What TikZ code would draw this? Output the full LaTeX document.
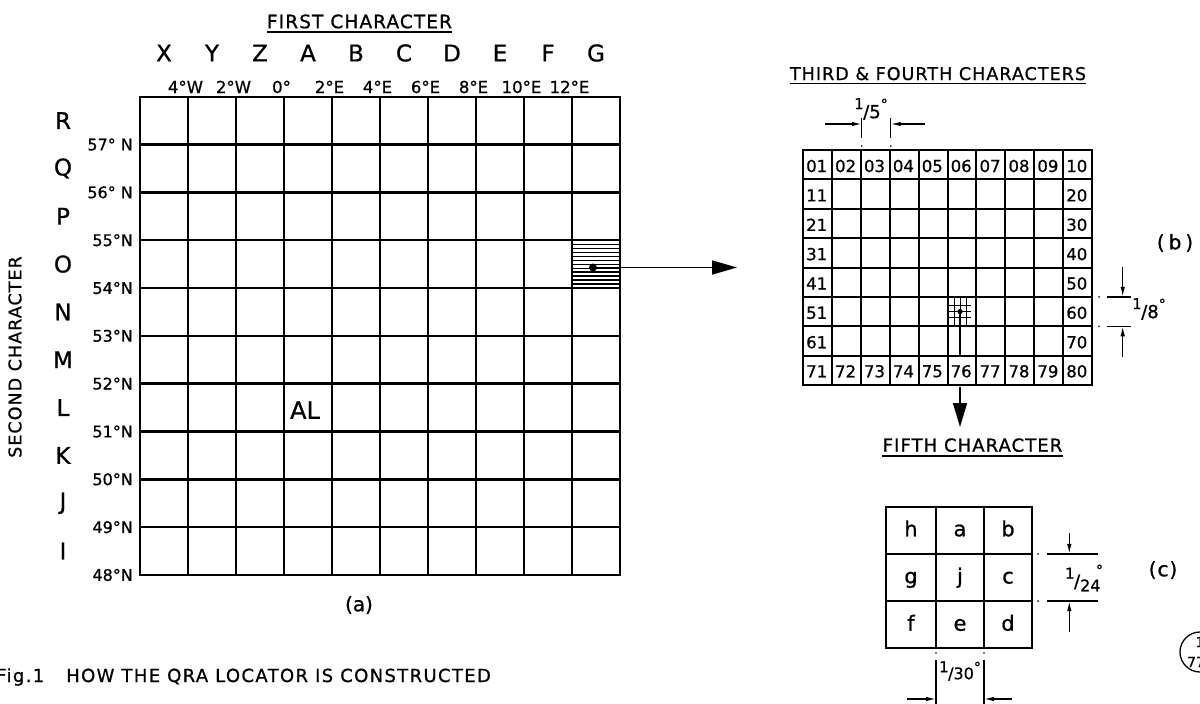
\documentclass[tikz,border=0pt]{standalone}
\usepackage{fontspec}
\setmainfont[FakeBold=0.9]{DejaVu Sans}
\newfontfamily\lblfont[LetterSpace=6,FakeBold=0.9]{DejaVu Sans}
\newfontfamily\capfont[LetterSpace=7.5,FakeBold=0.9]{DejaVu Sans}
\usetikzlibrary{arrows.meta}
\newcommand{\myfs}[1]{\fontsize{#1}{#1}\selectfont}
\newcommand{\dimfrac}[2][18]{\raisebox{0.5em}{\myfs{15}1}\kern-0.5pt{\myfs{#1}/#2}\raisebox{0.5em}{\myfs{14}°}}
\newcommand{\dimfraclow}[1]{\raisebox{0.5em}{\myfs{15}1}\kern-0.5pt/\raisebox{-0.2em}{\myfs{16}#1}\kern-4.5pt\raisebox{0.7em}{\myfs{14}°}}
\tikzset{
  gridA/.style={line width=2.4pt,line cap=rect},
  gridB/.style={line width=2pt,line cap=rect},
  gridC/.style={line width=2.3pt,line cap=rect},
  hatch/.style={line width=1.2pt},
  fine/.style={line width=1pt},
  dimline/.style={line width=1.3pt},
  dimarrow/.style={line width=1.3pt,-{Latex[length=10pt,width=4.5pt]}},
  bigarrow/.style={line width=1.7pt,-{Triangle[length=25pt,width=14pt]}},
  downarrow/.style={line width=1.7pt,-{Triangle[length=24pt,width=14pt]}},
  title/.style={font=\lblfont\myfs{17.5},inner sep=0pt,anchor=base},
  ulstyle/.style={line width=1.8pt},
  biglet/.style={font=\myfs{23}},
  deg/.style={font=\myfs{16.5},anchor=base},
  lat/.style={font=\myfs{16},anchor=east,inner sep=0pt},
  bnum/.style={font=\myfs{16.5},anchor=west,inner sep=0pt},
  cletter/.style={font=\myfs{21},anchor=base},
  dimtxt/.style={font=\myfs{18},inner sep=0pt},
  panel/.style={font=\myfs{20}},
}
\begin{document}
\begin{tikzpicture}[x=1pt,y=-1pt]
\useasboundingbox (0,0) rectangle (1200,704);
% ---------------- (a) main grid
\foreach \i in {0,...,10}{
  \draw[gridA] ({140+48*\i},96.7) -- ({140+48*\i},575);
  \draw[gridA] (140,{96.7+47.83*\i}) -- (620,{96.7+47.83*\i});
}
\foreach \k in {1,...,11}{
  \draw[hatch] (572,{240.2+47.83/12*\k}) -- (620,{240.2+47.83/12*\k});
}
\coordinate (dotA) at (593,267.5);
\coordinate (tipA) at (737,267.5);
\fill (dotA) circle[radius=4];
\draw[bigarrow] (dotA) -- (tipA);

\node[title,font=\lblfont\myfs{18.5}] (first) at (359.5,28.2) {FIRST CHARACTER};
\draw[ulstyle] ([yshift=-4pt]first.base west) -- ([yshift=-4pt]first.base east);
\foreach \lt [count=\i from 0] in {X,Y,Z,A,B,C,D,E,F,G}
  \node[biglet] (col\lt) at ({164+48*\i},53) {\lt};
\foreach \lab [count=\i from 1] in {4°W,2°W,0°,2°E,4°E,6°E,8°E,10°E,12°E}
  \node[deg] (lon\i) at ({140+48*\i-2.5},93) {\lab};
\foreach \lt [count=\i from 0] in {R,Q,P,O,N,M,L,K,J,I}
  \node[biglet] (row\lt) at (63,{120.6+47.83*\i}) {\lt};
\foreach \lab [count=\i from 1] in {57° N,56° N,55°N,54°N,53°N,52°N,51°N,50°N,49°N,48°N}
  \node[lat] (lat\i) at (133,{96.7+47.83*\i}) {\lab};
\node[title,anchor=center,rotate=90] (second) at (15,357) {SECOND CHARACTER};
\node[font=\myfs{24}] (al) at (305,410) {AL};
\node[panel] (pa) at (359,605) {(a)};
\node[font=\capfont\myfs{18},anchor=base west,inner sep=0pt] (caption) at (-4,682)
  {Fig.1\hspace{22pt}HOW THE QRA LOCATOR IS CONSTRUCTED};

% ---------------- (b) grid
\foreach \i in {0,...,10}
  \draw[gridB] ({803+28.9*\i},150) -- ({803+28.9*\i},385);
\foreach \j in {0,...,8}
  \draw[gridB] (803,{150+29.375*\j}) -- (1092,{150+29.375*\j});
\foreach \lab [count=\i from 0] in {01,02,03,04,05,06,07,08,09,10}
  \node[bnum] (top\i) at ({806+28.9*\i},166) {\lab};
\foreach \lab [count=\i from 0] in {71,72,73,74,75,76,77,78,79,80}
  \node[bnum] (bot\i) at ({806+28.9*\i},371.3) {\lab};
\foreach \lab [count=\j from 1] in {11,21,31,41,51,61}
  \node[bnum] (left\j) at (806,{166+29.375*\j}) {\lab};
\foreach \lab [count=\j from 1] in {20,30,40,50,60,70}
  \node[bnum] (right\j) at ({806+28.9*9},{166+29.375*\j}) {\lab};
% sub-grid in square 56
\foreach \x in {954,960,966}
  \draw[fine] (\x,296.9) -- (\x,326.25);
\foreach \y in {305.5,311.5,317.5}
  \draw[fine] (947.5,\y) -- (971,\y);
\coordinate (dotB) at (960,311.6);
\coordinate (legEnd) at (960,355.6);
\fill (dotB) circle[radius=2.6];
\draw[line width=1.3pt] (dotB) -- (legEnd);
\coordinate (arrB1) at (960,387);
\coordinate (arrB2) at (960,427);
\draw[downarrow] (arrB1) -- (arrB2);

\node[title] (third) at (938,80) {THIRD \& FOURTH CHARACTERS};
\draw[ulstyle] ([yshift=-3.5pt]third.base west) -- ([yshift=-3.5pt]third.base east);

% 1/5 dimension
\foreach \x in {861.8,890.7}{
  \draw[dimline] (\x,118) -- (\x,138);
  \fill (\x,146) circle[radius=0.9];
}
\coordinate (d1a) at (825,124); \coordinate (d1b) at (861.8,124);
\coordinate (d2a) at (925,124); \coordinate (d2b) at (890.7,124);
\draw[dimarrow] (d1a) -- (d1b);
\draw[dimarrow] (d2a) -- (d2b);
\node[dimtxt] (f15) at (871,109) {\dimfrac{5}};

% 1/8 dimension
\foreach \y in {296.9,326.25}{
  \draw[dimline] (1107,\y) -- (1131,\y);
  \fill (1099,\y) circle[radius=0.9];
}
\coordinate (d3a) at (1122.7,267); \coordinate (d3b) at (1122.7,296.9);
\coordinate (d4a) at (1122.7,357); \coordinate (d4b) at (1122.7,326.25);
\draw[dimarrow] (d3a) -- (d3b);
\draw[dimarrow] (d4a) -- (d4b);
\node[dimtxt] (f18) at (1149,309) {\dimfrac{8}};
\node[panel] (pb) at (1175,243) {(\kern4pt b\kern4pt)};

% ---------------- (c)
\node[title,font=\lblfont\myfs{18}] (fifth) at (972.5,451.7) {FIFTH CHARACTER};
\draw[ulstyle] ([yshift=-4.3pt]fifth.base west) -- ([yshift=-4.3pt]fifth.base east);
\foreach \x in {886,936,984,1032}
  \draw[gridC] (\x,506.7) -- (\x,648.3);
\foreach \y in {506.7,553.9,601.1,648.3}
  \draw[gridC] (886,\y) -- (1032,\y);
\node[cletter] (ch) at (911,536.3) {h};
\node[cletter] (ca) at (960,536.3) {a};
\node[cletter] (cb) at (1008,536.3) {b};
\node[cletter] (cg) at (911,583.5) {g};
\node[cletter] (cj) at (960,583.5) {j};
\node[cletter] (cc) at (1008,583.5) {c};
\node[cletter] (cf) at (911,630.7) {f};
\node[cletter] (ce) at (960,630.7) {e};
\node[cletter] (cd) at (1008,630.7) {d};

% 1/24 dimension
\foreach \y in {553.9,601.1}{
  \draw[dimline] (1047,\y) -- (1098,\y);
  \fill (1038,\y) circle[radius=0.9];
}
\coordinate (d5a) at (1069.3,533); \coordinate (d5b) at (1069.3,553.9);
\coordinate (d6a) at (1069.3,632); \coordinate (d6b) at (1069.3,601.1);
\draw[dimarrow] (d5a) -- (d5b);
\draw[dimarrow] (d6a) -- (d6b);
\node[dimtxt] (f124) at (1084,578) {\dimfraclow{24}};
\node[panel] (pc) at (1163,570) {(\kern1pt c\kern1pt)};

% 1/30 dimension
\foreach \x in {936,984}{
  \draw[dimline] (\x,660) -- (\x,705);
  \fill (\x,653) circle[radius=0.9];
}
\coordinate (d7a) at (906.7,699); \coordinate (d7b) at (936,699);
\coordinate (d8a) at (1011.7,699); \coordinate (d8b) at (984,699);
\draw[dimarrow] (d7a) -- (d7b);
\draw[dimarrow] (d8a) -- (d8b);
\node[dimtxt,font=\myfs{14}] (f130) at (960,671) {\dimfrac[16]{30}};

% page mark (cut off)
\draw[line width=1.3pt] (1200,652) circle[radius=20];
\node[font=\myfs{14}] (pm1) at (1196,662) {77};
\node[font=\myfs{14}] (pm2) at (1200,642) {1};
\end{tikzpicture}
\end{document}
